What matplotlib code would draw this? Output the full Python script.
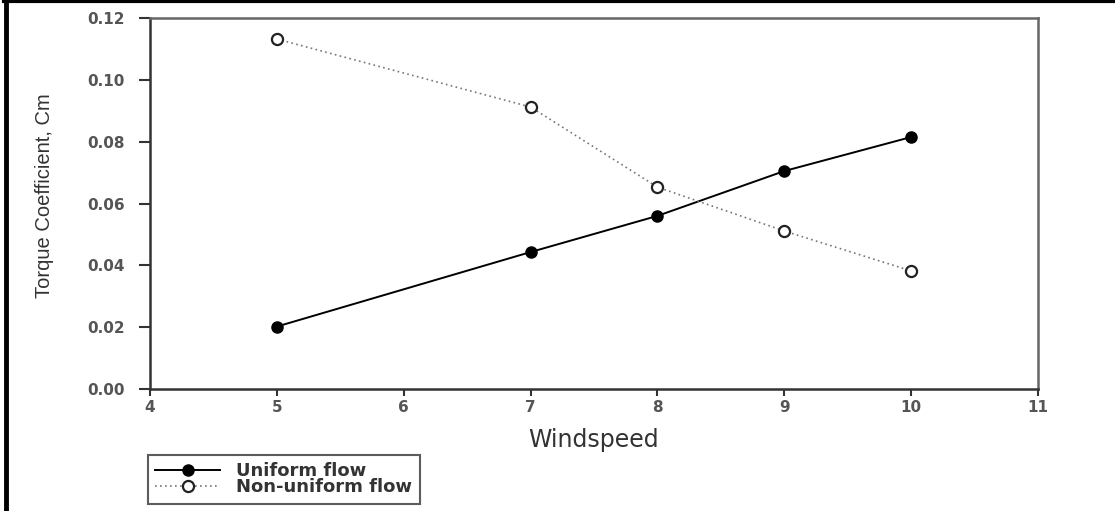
import matplotlib.pyplot as plt
from matplotlib.lines import Line2D
from matplotlib import font_manager

# wind speeds and torque coefficients
windspeed = [5, 7, 8, 9, 10]
cm_uniform = [0.0202, 0.0443, 0.0560, 0.0705, 0.0815]
cm_nonuniform = [0.1132, 0.0912, 0.0653, 0.0511, 0.0382]

xticks = [4, 5, 6, 7, 8, 9, 10, 11]
yticks = [0.00, 0.02, 0.04, 0.06, 0.08, 0.10, 0.12]

plt.rcParams['font.family'] = ['DejaVu Sans']

installed = {f.name for f in font_manager.fontManager.ttflist}
if 'Liberation Sans Narrow' in installed:
    ylab_font, ylab_size = 'Liberation Sans Narrow', 17
else:
    ylab_font, ylab_size = 'Liberation Sans', 14.5

fig = plt.figure(figsize=(11.15, 5.11), dpi=100)
ax = fig.add_axes([0.1345, 0.2387, 0.7965, 0.7261])

ax.plot(windspeed, cm_uniform, color='black', lw=1.4, marker='o',
        markersize=8, markerfacecolor='black', label='Uniform flow')
ax.plot(windspeed, cm_nonuniform, color='#777777', lw=1.2, ls=(0, (1, 2)),
        marker='o', markersize=8, markerfacecolor='white',
        markeredgecolor='#222222', markeredgewidth=1.6, label='Non-uniform flow')

ax.set_xlim(4, 11)
ax.set_ylim(0, 0.12)
ax.set_xticks(xticks)
ax.set_yticks(yticks)
ax.set_yticklabels([f'{v:.2f}' for v in yticks])
ax.tick_params(direction='out', width=1.5, colors='#333333',
               labelsize=11, labelcolor='#555555')
ax.tick_params(axis='x', length=5, pad=3)
ax.tick_params(axis='y', length=8, pad=10)
for lbl in ax.get_xticklabels() + ax.get_yticklabels():
    lbl.set_fontweight('bold')

for side in ['left', 'bottom']:
    ax.spines[side].set_linewidth(1.8)
    ax.spines[side].set_color('#333333')
for side in ['top', 'right']:
    ax.spines[side].set_linewidth(1.8)
    ax.spines[side].set_color('#666666')

ax.set_xlabel('Windspeed', fontsize=17, color='#333333', labelpad=9)
ax.set_ylabel('Torque Coefficient, Cm', fontsize=ylab_size, color='#333333',
              family=[ylab_font, 'DejaVu Sans'], labelpad=24)
ax.yaxis.set_label_coords(-0.108, 0.52)

leg = fig.legend(loc='upper left', bbox_to_anchor=(148 / 1115, 1 - 455 / 511),
                 prop={'size': 13, 'weight': 'bold'}, frameon=True,
                 fancybox=False, borderpad=0.4, handlelength=3.6,
                 labelspacing=-0.1, handletextpad=0.9, borderaxespad=0)
leg.get_frame().set_edgecolor('#333333')
leg.get_frame().set_linewidth(1.5)
for t in leg.get_texts():
    t.set_color('#333333')

# outer frame lines along the top and left edges
fig.add_artist(Line2D([4 / 1115, 1], [1 - 1.5 / 511, 1 - 1.5 / 511],
                      transform=fig.transFigure, color='black', lw=3))
fig.add_artist(Line2D([6 / 1115, 6 / 1115], [0, 1],
                      transform=fig.transFigure, color='black', lw=3.5))

fig.savefig('out.png', dpi=100)
